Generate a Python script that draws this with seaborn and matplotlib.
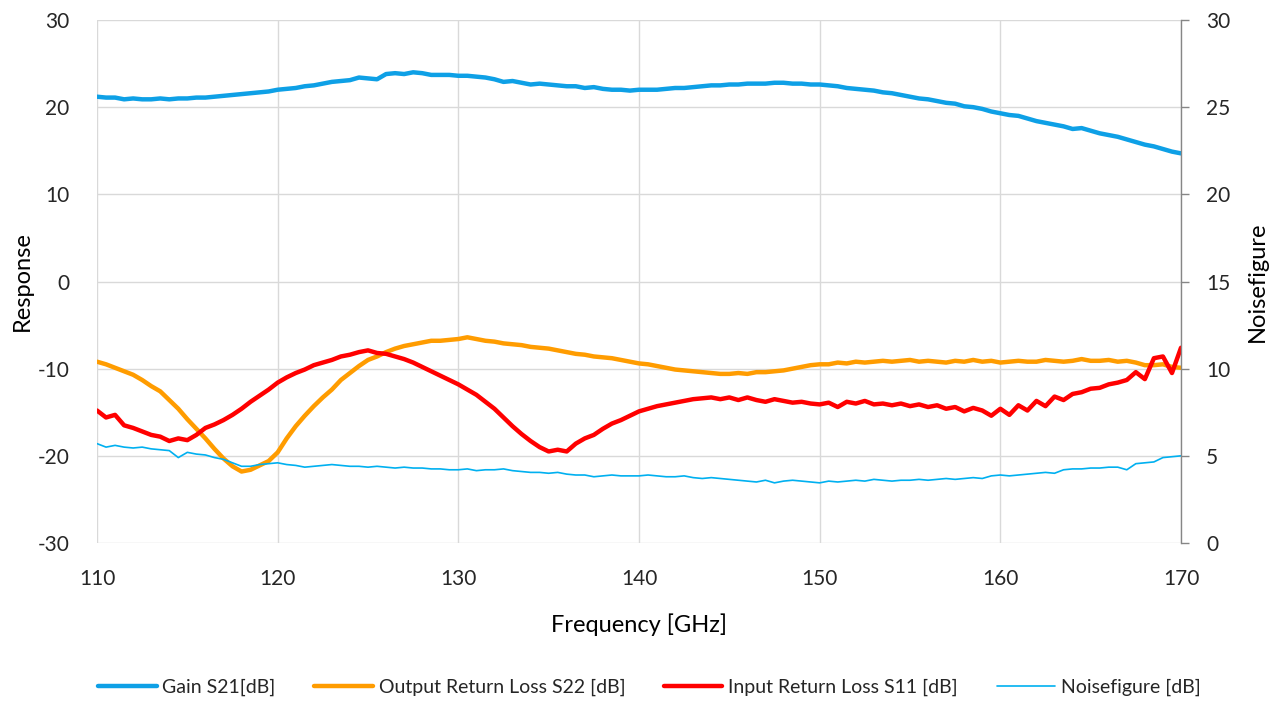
import numpy as np
import pandas as pd
import matplotlib
matplotlib.use("Agg")
import matplotlib.pyplot as plt
import seaborn as sns

# Frequency grid (GHz), 0.5 GHz sampling
freq = np.arange(110, 170.01, 0.5)

gain_s21 = [
    21.2, 21.1, 21.1, 20.9, 21.0, 20.9, 20.9, 21.0, 20.9, 21.0,
    21.0, 21.1, 21.1, 21.2, 21.3, 21.4, 21.5, 21.6, 21.7, 21.8,
    22.0, 22.1, 22.2, 22.4, 22.5, 22.7, 22.9, 23.0, 23.1, 23.4,
    23.3, 23.2, 23.8, 23.9, 23.8, 24.0, 23.9, 23.7, 23.7, 23.7,
    23.6, 23.6, 23.5, 23.4, 23.2, 22.9, 23.0, 22.8, 22.6, 22.7,
    22.6, 22.5, 22.4, 22.4, 22.2, 22.3, 22.1, 22.0, 22.0, 21.9,
    22.0, 22.0, 22.0, 22.1, 22.2, 22.2, 22.3, 22.4, 22.5, 22.5,
    22.6, 22.6, 22.7, 22.7, 22.7, 22.8, 22.8, 22.7, 22.7, 22.6,
    22.6, 22.5, 22.4, 22.2, 22.1, 22.0, 21.9, 21.7, 21.6, 21.4,
    21.2, 21.0, 20.9, 20.7, 20.5, 20.4, 20.1, 20.0, 19.8, 19.5,
    19.3, 19.1, 19.0, 18.7, 18.4, 18.2, 18.0, 17.8, 17.5, 17.6,
    17.3, 17.0, 16.8, 16.6, 16.3, 16.0, 15.7, 15.5, 15.2, 14.9,
    14.7,
]

out_rl_s22 = [
    -9.2, -9.5, -9.9, -10.3, -10.7, -11.3, -12.0, -12.6, -13.6, -14.6,
    -15.8, -16.9, -18.0, -19.2, -20.3, -21.2, -21.8, -21.6, -21.1, -20.6,
    -19.6, -18.0, -16.6, -15.4, -14.3, -13.3, -12.4, -11.3, -10.5, -9.7,
    -9.0, -8.6, -8.1, -7.7, -7.4, -7.2, -7.0, -6.8, -6.8, -6.7,
    -6.6, -6.4, -6.6, -6.8, -6.9, -7.1, -7.2, -7.3, -7.5, -7.6,
    -7.7, -7.9, -8.1, -8.3, -8.4, -8.6, -8.7, -8.8, -9.0, -9.2,
    -9.4, -9.5, -9.7, -9.9, -10.1, -10.2, -10.3, -10.4, -10.5, -10.6,
    -10.6, -10.5, -10.6, -10.4, -10.4, -10.3, -10.2, -10.0, -9.8, -9.6,
    -9.5, -9.5, -9.3, -9.4, -9.2, -9.3, -9.2, -9.1, -9.2, -9.1,
    -9.0, -9.2, -9.1, -9.2, -9.3, -9.1, -9.2, -9.0, -9.2, -9.1,
    -9.3, -9.2, -9.1, -9.2, -9.2, -9.0, -9.1, -9.2, -9.1, -8.9,
    -9.1, -9.1, -9.0, -9.2, -9.1, -9.3, -9.6, -9.6, -9.5, -9.8,
    -9.9,
]

in_rl_s11 = [
    -14.8, -15.6, -15.3, -16.5, -16.8, -17.2, -17.6, -17.8, -18.3, -18.0,
    -18.2, -17.6, -16.8, -16.4, -15.9, -15.3, -14.6, -13.8, -13.1, -12.4,
    -11.6, -11.0, -10.5, -10.1, -9.6, -9.3, -9.0, -8.6, -8.4, -8.1,
    -7.9, -8.2, -8.3, -8.6, -8.9, -9.3, -9.8, -10.3, -10.8, -11.3,
    -11.8, -12.4, -13.0, -13.8, -14.6, -15.6, -16.6, -17.5, -18.3, -19.0,
    -19.5, -19.3, -19.5, -18.6, -18.0, -17.6, -16.9, -16.3, -15.9, -15.4,
    -14.9, -14.6, -14.3, -14.1, -13.9, -13.7, -13.5, -13.4, -13.3, -13.5,
    -13.3, -13.6, -13.3, -13.6, -13.8, -13.5, -13.7, -13.9, -13.8, -14.0,
    -14.1, -13.9, -14.4, -13.8, -14.0, -13.7, -14.1, -14.0, -14.2, -14.0,
    -14.3, -14.1, -14.4, -14.2, -14.6, -14.4, -14.9, -14.5, -14.8, -15.4,
    -14.6, -15.3, -14.2, -14.8, -13.7, -14.3, -13.2, -13.6, -12.9, -12.7,
    -12.3, -12.2, -11.8, -11.6, -11.3, -10.4, -11.2, -8.8, -8.6, -10.5,
    -7.6,
]

noise_figure = [
    5.7, 5.5, 5.6, 5.5, 5.45, 5.5, 5.4, 5.35, 5.3, 4.9,
    5.2, 5.1, 5.05, 4.9, 4.8, 4.6, 4.4, 4.4, 4.5, 4.55,
    4.6, 4.5, 4.45, 4.35, 4.4, 4.45, 4.5, 4.45, 4.4, 4.4,
    4.35, 4.4, 4.35, 4.3, 4.35, 4.3, 4.3, 4.25, 4.25, 4.2,
    4.2, 4.25, 4.15, 4.2, 4.2, 4.25, 4.15, 4.1, 4.05, 4.05,
    4.0, 4.05, 3.95, 3.9, 3.9, 3.8, 3.85, 3.9, 3.85, 3.85,
    3.85, 3.9, 3.85, 3.8, 3.8, 3.85, 3.75, 3.7, 3.75, 3.7,
    3.65, 3.6, 3.55, 3.5, 3.6, 3.45, 3.55, 3.6, 3.55, 3.5,
    3.45, 3.55, 3.5, 3.55, 3.6, 3.55, 3.65, 3.6, 3.55, 3.6,
    3.6, 3.65, 3.6, 3.65, 3.7, 3.65, 3.7, 3.75, 3.7, 3.85,
    3.9, 3.85, 3.9, 3.95, 4.0, 4.05, 4.0, 4.2, 4.25, 4.25,
    4.3, 4.3, 4.35, 4.35, 4.2, 4.55, 4.6, 4.65, 4.9, 4.95,
    5.0,
]

labels = ["Gain S21[dB]", "Output Return Loss S22 [dB]",
          "Input Return Loss S11 [dB]", "Noisefigure [dB]"]

df = pd.DataFrame({"freq": freq, "gain": gain_s21, "s22": out_rl_s22,
                   "s11": in_rl_s11, "nf": noise_figure})

sns.set_theme(style="white")
plt.rcParams["font.family"] = ["Lato", "DejaVu Sans"]
plt.rcParams["axes.unicode_minus"] = False

fig = plt.figure(figsize=(12.81, 7.04), dpi=100)
ax = fig.add_axes([97/1281, 1-543/704, (1181-97)/1281, (543-20)/704])
ax2 = ax.twinx()

sns.lineplot(data=df, x="freq", y="gain", ax=ax, color="#0EA0E6", linewidth=3.2, label=labels[0], legend=False)
sns.lineplot(data=df, x="freq", y="s22", ax=ax, color="#FF9C00", linewidth=3.2, label=labels[1], legend=False)
sns.lineplot(data=df, x="freq", y="s11", ax=ax, color="#FF0000", linewidth=3.2, label=labels[2], legend=False)
sns.lineplot(data=df, x="freq", y="nf", ax=ax2, color="#00B0F0", linewidth=1.2, label=labels[3], legend=False)

ax.set_xlim(110, 170)
ax.set_ylim(-30, 30)
ax2.set_ylim(0, 30)
ax.set_xticks(np.arange(110, 171, 10))
ax.set_yticks(np.arange(-30, 31, 10))
ax2.set_yticks(np.arange(0, 31, 5))

ax.grid(True, color="#D9D9D9", linewidth=1.0)
ax2.grid(False)
ax.set_axisbelow(True)
for s in ["left", "top", "bottom"]:
    ax.spines[s].set_visible(False)
    ax2.spines[s].set_visible(False)
ax.spines["right"].set_visible(False)
ax2.spines["right"].set_visible(True)
ax2.spines["right"].set_color("#868686")
ax2.spines["right"].set_linewidth(1.0)

ax.tick_params(axis="x", length=0, pad=19, labelsize=15, labelcolor="#262626")
ax.tick_params(axis="y", length=0, pad=20, labelsize=15, labelcolor="#262626")
ax2.tick_params(axis="y", direction="out", length=6, width=1.0, color="#868686",
                pad=12, labelsize=15, labelcolor="#262626")

ax.set_xlabel("Frequency [GHz]", fontsize=17, labelpad=17, color="#000000")
ax.set_ylabel("Response", fontsize=17, labelpad=3, color="#000000")
ax2.set_ylabel("Noisefigure", fontsize=17, labelpad=12, color="#000000")

h1, l1 = ax.get_legend_handles_labels()
h2, l2 = ax2.get_legend_handles_labels()
fig.legend(h1 + h2, l1 + l2, loc="center", bbox_to_anchor=(0.507, 1-687/704),
           ncol=4, frameon=False, fontsize=14, handlelength=3.0,
           handletextpad=0.3, columnspacing=2.0)

fig.savefig("out.png", dpi=100)
